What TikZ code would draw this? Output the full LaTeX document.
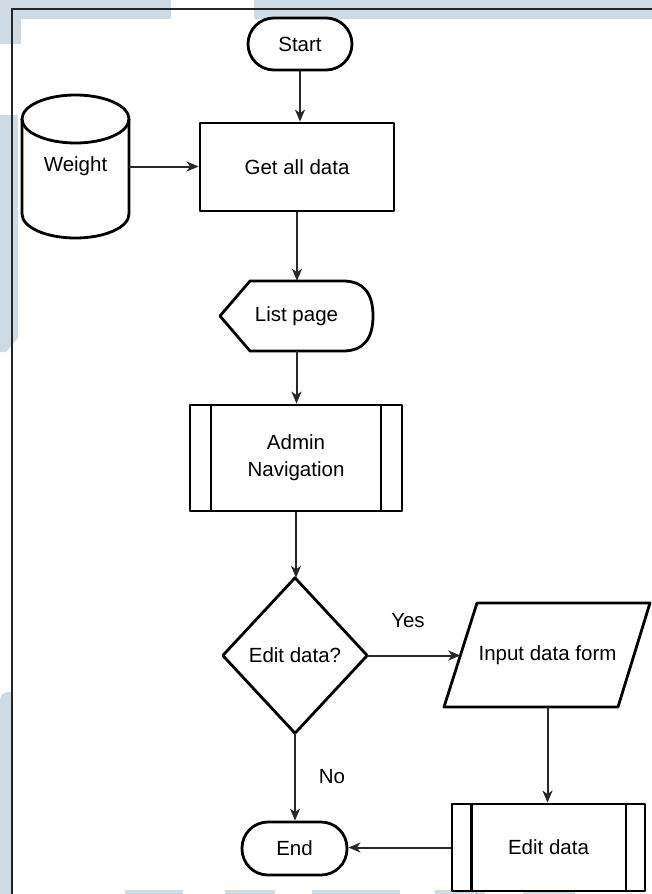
\documentclass[tikz,border=0pt]{standalone}
\usepackage{fontspec}
\setmainfont{Liberation Sans}
\usetikzlibrary{arrows.meta}
\definecolor{wmark}{RGB}{206,218,228}
\definecolor{edgegrey}{RGB}{40,40,40}
\begin{document}
\begin{tikzpicture}[x=1pt,y=-1pt,
  every node/.style={font=\fontsize{20.5}{27}\selectfont},
  shapeline/.style={draw=black,line width=2.8pt,line join=round},
  box/.style={shapeline,rectangle,inner sep=0pt},
  terminal/.style={box,rounded corners=26pt},
  ghost/.style={rectangle,inner sep=0pt,align=center},
  flow/.style={draw=edgegrey,line width=2pt,
    -{Stealth[length=12pt,width=10pt,inset=3.5pt]}},
  lbl/.style={inner sep=0pt}]

\useasboundingbox (0,0) rectangle (652,894);
\fill[white] (0,0) rectangle (652,894);

% pale background bands along the page edges
\fill[wmark] (0,0) rectangle (171,19);
\fill[wmark] (254,0) rectangle (652,19);
\fill[wmark] (0,0) rectangle (21,44);
\fill[wmark] (0,115) -- (18,115) -- (18,338) -- (6,352) -- (0,352) -- cycle;
\fill[wmark] (0,894) -- (0,700) arc[start angle=180,end angle=270,radius=8] -- (12,692) -- (12,894) -- cycle;
\foreach \a/\b in {125/183,225/275,312/400,435/485,523/575}
  \fill[wmark] (\a,890) rectangle (\b,894);

% page frame
\draw[black!85,line width=1.2pt] (12,894) -- (12,9) -- (652,9);

% terminals
\node[terminal,minimum width=104pt,minimum height=52pt] (start) at (300,44) {Start};
\node[terminal,minimum width=105pt,minimum height=53pt] (end) at (294.5,848.5) {End};

% process
\node[box,minimum width=194pt,minimum height=88pt] (get) at (297,167) {Get all data};

% stored data (cylinder)
\node[ghost,minimum width=107pt,minimum height=143pt] (weight) at (75.5,166.5) {Weight};
\draw[shapeline] (75.5,119) ellipse[x radius=53.5,y radius=24];
\draw[shapeline] (22,119) -- (22,214)
  arc[start angle=180,end angle=0,x radius=53.5,y radius=24] -- (129,119);

% display
\node[ghost,minimum width=153pt,minimum height=70pt] (list) at (296.5,316) {List page};
\draw[shapeline] (220,316) -- (250,281) -- (343,281)
  .. controls (363,281) and (373,292.7) .. (373,316)
  .. controls (373,339.3) and (363,351) .. (343,351) -- (250,351) -- cycle;

% predefined processes
\node[box,minimum width=212pt,minimum height=106pt,align=center] (admin) at (296,458) {Admin\\Navigation};
\draw[shapeline] (211,405) -- (211,511) (381,405) -- (381,511);

\node[box,minimum width=193pt,minimum height=87pt] (edit) at (548.5,847.5) {Edit data};
\draw[shapeline] (471.5,804) -- (471.5,891) (626,804) -- (626,891);

% decision
\node[ghost,minimum width=144pt,minimum height=155pt] (dec) at (295,655.5) {Edit data?};
\draw[shapeline] (dec.west) -- (dec.north) -- (dec.east) -- (dec.south) -- cycle;

% input (parallelogram)
\node[ghost,minimum width=174pt,minimum height=104pt] (form) at (547.5,655) {Input data form};
\draw[shapeline] (444,707) -- (477,603) -- (650,603) -- (618,707) -- cycle;

% branch labels
\node[lbl] (yes) at (408,621) {Yes};
\node[lbl] (no) at (332,777) {No};

% connectors
\draw[flow] (start.south) -- (start.south |- get.north);
\draw[flow] (weight.east) -- (weight.east -| get.west);
\draw[flow] (get.south) -- (get.south |- list.north);
\draw[flow] (list.south) -- (list.south |- admin.north);
\draw[flow] (admin.south) -- (admin.south |- dec.north);
\draw[flow] (dec.east) -- (dec.east -| form.west);
\draw[flow] (dec.south) -- (dec.south |- end.north);
\draw[flow] (form.south) -- (form.south |- edit.north);
\draw[flow] (edit.west) -- (edit.west -| end.east);
\end{tikzpicture}
\end{document}
